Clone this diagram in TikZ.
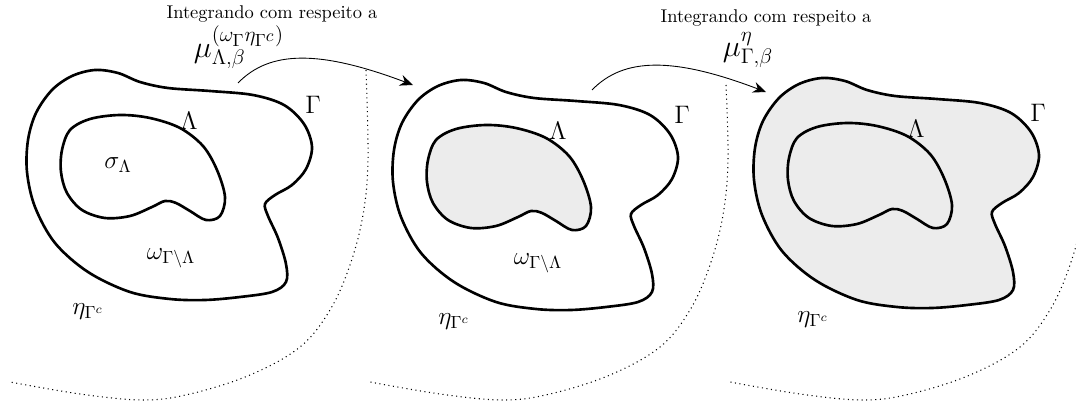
\documentclass[tikz,border=0pt]{standalone}
\usetikzlibrary{arrows.meta, positioning}

% outer region Gamma, drawn in pixel units
\newcommand{\gammacurve}[1]{%
  \draw[blob, #1] plot[smooth cycle, tension=0.55] coordinates {
    (28,140) (36,113) (52,90) (72,76) (95,70) (118,73) (140,82) (168,88)
    (210,91) (253,95) (284,105) (304,124) (312,147) (306,169) (292,185)
    (275,195) (265,204) (268,216) (278,238) (286,264) (286,282) (272,292)
    (240,297) (205,300) (170,299) (130,292) (88,272) (55,243) (35,207)
    (27,172)};}

% inner region Lambda
\newcommand{\lambdacurve}[1]{%
  \draw[blob, #1] plot[smooth cycle, tension=0.55] coordinates {
    (62,150) (70,130) (90,119) (120,115) (150,118) (180,128) (203,146)
    (217,170) (225,197) (220,216) (206,220) (190,211) (176,203) (165,201)
    (152,207) (130,216) (105,218) (82,210) (67,193) (61,172)};}

\begin{document}
\begin{tikzpicture}[
    x=0.02cm, y=-0.02cm,
    every node/.style={font=\Large},
    blob/.style={line width=1.5pt, line join=round},
    shade_fill/.style={fill=gray!15},
    outside/.style={dotted, line width=0.6pt},
    arrow/.style={semithin, -{Stealth[length=2.6mm, width=2.2mm]}},
    semithin/.style={line width=0.5pt},
    caption/.style={font=\fontsize{10.5pt}{12pt}\selectfont},
    measure/.style={font=\LARGE},
    ]
    \useasboundingbox (0,0) rectangle (1076,405);

    % --- Complement boundaries ---
    \foreach \dx/\top in {0/70, 360/85, 720/85} {
        \begin{scope}[shift={(\dx,0)}]
            \draw[outside] plot[smooth, tension=0.6] coordinates {
                (366,\top) (368,160) (363,215) (350,265) (330,310) (300,347)
                (250,375) (190,394) (143,400) (80,394) (10,382)};
        \end{scope}
    }

    % --- Panel 1 ---
    \gammacurve{}
    \lambdacurve{}
    \node (lam1) at (189,121) {$\Lambda$};
    \node (gam1) at (313,105) {$\Gamma$};
    \node (sig1) at (118,165) {$\sigma_\Lambda$};
    \node (omg1) at (171,258) {$\omega_{\Gamma\setminus\Lambda}$};
    \node (eta1) at (88,312) {$\eta_{\Gamma^c}$};

    % --- Panel 2 ---
    \begin{scope}[shift={(366,10)}]
        \gammacurve{}
        \lambdacurve{shade_fill}
    \end{scope}
    \node (lam2) at (558,131) {$\Lambda$};
    \node (gam2) at (682,115) {$\Gamma$};
    \node (omg2) at (538,263) {$\omega_{\Gamma\setminus\Lambda}$};
    \node (eta2) at (454,322) {$\eta_{\Gamma^c}$};

    % --- Panel 3 ---
    \begin{scope}[shift={(727,8)}]
        \gammacurve{shade_fill}
        \lambdacurve{}
    \end{scope}
    \node (lam3) at (916,129) {$\Lambda$};
    \node (gam3) at (1038,113) {$\Gamma$};
    \node (eta3) at (813,320) {$\eta_{\Gamma^c}$};

    % --- Integration steps ---
    \node (int1) [caption] at (272,14) {Integrando com respeito a};
    \node (mu1) [measure] at (239,47) {$\mu^{(\omega_\Gamma\eta_{\Gamma^c})}_{\Lambda,\beta}$};
    \node (int2) [caption] at (766,18) {Integrando com respeito a};
    \node (mu2) [measure] at (748,50) {$\mu^{\eta}_{\Gamma,\beta}$};

    \coordinate (from1) at (238,83);
    \coordinate (to1) at (413,85);
    \coordinate (from2) at (592,90);
    \coordinate (to2) at (766,92);
    \draw[arrow] (from1) .. controls (270,50) and (320,50) .. (to1);
    \draw[arrow] (from2) .. controls (624,57) and (674,57) .. (to2);

\end{tikzpicture}
\end{document}
